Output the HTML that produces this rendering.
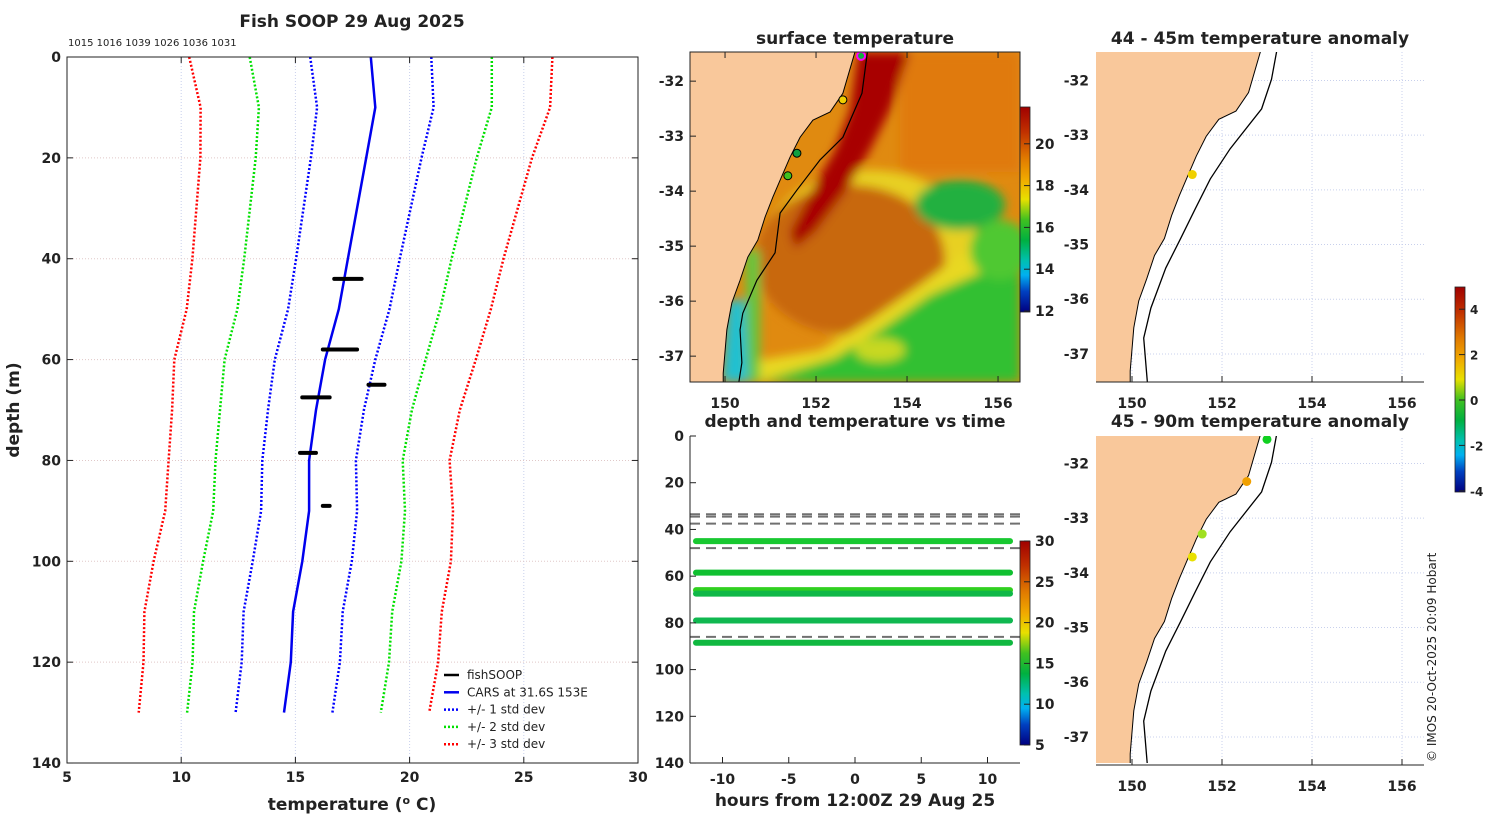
<!DOCTYPE html>
<html><head><meta charset="utf-8"><style>
html,body{margin:0;padding:0;background:#fff;width:1500px;height:820px;overflow:hidden;}
svg{display:block;font-family:"DejaVu Sans","Liberation Sans",sans-serif;}
.t{font-weight:bold;font-size:17px;fill:#222;}
.k{font-weight:bold;font-size:14px;fill:#222;}
</style></head><body>
<svg id="fig" width="1500" height="820" viewBox="0 0 1500 820" xmlns="http://www.w3.org/2000/svg">
<defs>
<linearGradient id="sstcb" x1="0" y1="0" x2="0" y2="1">
<stop offset="0" stop-color="#a00000"/><stop offset="0.12" stop-color="#c03000"/><stop offset="0.25" stop-color="#e07a00"/><stop offset="0.35" stop-color="#f0a800"/><stop offset="0.45" stop-color="#e8e000"/><stop offset="0.55" stop-color="#40c020"/><stop offset="0.65" stop-color="#00b040"/><stop offset="0.75" stop-color="#00c0b0"/><stop offset="0.82" stop-color="#00b0f0"/><stop offset="0.9" stop-color="#0040c0"/><stop offset="1" stop-color="#000080"/>
</linearGradient>
<filter id="blur" x="-20%" y="-20%" width="140%" height="140%"><feGaussianBlur stdDeviation="5"/></filter>
<clipPath id="mapclip"><rect x="690" y="52" width="330" height="330"/></clipPath>
<clipPath id="rclip1"><rect x="1096" y="52" width="328" height="330"/></clipPath>
<clipPath id="rclip2"><rect x="1096" y="436" width="328" height="327"/></clipPath>
</defs>
</svg>
<script>
// ---------- data ----------
const depths = [0,10,20,40,50,60,70,80,90,100,110,120,130];
const carsMean = [18.3,18.5,18.1,17.3,16.9,16.3,15.9,15.6,15.6,15.3,14.9,14.8,14.5];
const carsStd = [2.65,2.55,2.42,2.27,2.22,2.2,2.1,2.05,2.1,2.17,2.17,2.15,2.12];
const fishDepth = [44,58,65,67.5,78.5,89];
const fishTmin = [16.7,16.2,18.2,15.3,15.2,16.2];
const fishTmax = [17.9,17.7,18.9,16.5,15.9,16.5];
const xTicks = [5,10,15,20,25,30];
const yTicks = [0,20,40,60,80,100,120,140];
const lineDepths = [45,58.5,66,67.5,79,88.5];
const lineColors = ['#18c830','#10c030','#30d020','#10b848','#10b850','#10b840'];
const dashDepths = [33.5,34.5,37.5,48,86];
const hTicks = [-10,-5,0,5,10];
const coastLon = [152.88,152.59,152.31,151.93,151.65,151.43,151.21,151.05,150.88,150.72,150.50,150.33,150.15,150.04,149.96,149.96];
const coastLat = [-31.40,-32.22,-32.56,-32.71,-33.02,-33.38,-33.80,-34.11,-34.47,-34.89,-35.20,-35.62,-36.03,-36.52,-37.31,-37.6];
const shelfLon = [153.14,153.01,152.59,152.09,151.58,151.21,151.10,150.70,150.39,150.33,150.37,150.28];
const shelfLat = [-31.40,-32.22,-33.02,-33.43,-33.98,-34.40,-35.12,-35.62,-36.22,-36.52,-37.12,-37.6];
const rLineLon = [153.23,153.10,152.88,152.18,151.74,151.41,151.08,150.75,150.42,150.26,150.35];
const rLineLat = [-31.40,-31.98,-32.52,-33.25,-33.80,-34.34,-34.89,-35.43,-36.16,-36.71,-37.6];
const lonTicks = [150,152,154,156];
const latTicks = [-32,-33,-34,-35,-36,-37];
const sstLon = [152.99,152.59,151.58,151.38];
const sstLat = [-31.54,-32.34,-33.31,-33.72];
const sstCol = ['#10b040','#f0d000','#10a040','#40c020'];
const a1Lon = [151.34]; const a1Lat = [-33.72]; const a1Col = ['#f0d000'];
const a2Lon = [153.0,152.55,151.56,151.34]; const a2Lat = [-31.56,-32.33,-33.29,-33.71];
const a2Col = ['#10d020','#f0a000','#a0e020','#e8e000'];
const sstCbTicks = [20,18,16,14,12];
const hovCbTicks = [30,25,20,15,10,5];
const anCbTicks = [4,2,0,-2,-4];

const NS='http://www.w3.org/2000/svg';
const svg=document.getElementById('fig');
function mk(tag,attrs,parent){const e=document.createElementNS(NS,tag);for(const k in attrs)e.setAttribute(k,attrs[k]);(parent||svg).appendChild(e);return e;}
function txt(x,y,s,cls,anchor,parent){const e=mk('text',{x:x,y:y,'class':cls,'text-anchor':anchor||'middle'},parent);e.textContent=s;return e;}

// ---------- left profile ----------
const xT=t=>67+(t-5)*22.84, yD=d=>57+d*5.043;
const gL=mk('g',{});


xTicks.forEach(t=>{const l=mk('line',{x1:xT(t),x2:xT(t),y1:57,y2:763,stroke:'#c8d0ec','stroke-dasharray':'1 2'},gL);

});
yTicks.forEach(d=>{const l=mk('line',{x1:67,x2:638,y1:yD(d),y2:yD(d),stroke:'#e0c8c8','stroke-dasharray':'1 2'},gL);

});
function pathFrom(ts,ds){return ts.map((t,i)=>(i?'L':'M')+xT(t).toFixed(1)+','+yD(ds[i]).toFixed(1)).join('');}
const bandCols={1:'#0000ff',2:'#00e000',3:'#ff0000'};
[1,2,3].forEach(k=>{[-1,1].forEach(s=>{
 const p=mk('path',{d:pathFrom(carsMean.map((m,i)=>m+s*k*carsStd[i]),depths),fill:'none',stroke:bandCols[k],'stroke-width':2.5,'stroke-dasharray':'2 2'},gL);
 
 });});
const cars=mk('path',{d:pathFrom(carsMean,depths),fill:'none',stroke:'#0000ee','stroke-width':2.5},gL);


fishDepth.forEach((d,i)=>{const l=mk('line',{x1:xT(fishTmin[i]),x2:xT(fishTmax[i]),y1:yD(d),y2:yD(d),stroke:'#000','stroke-width':4,'stroke-linecap':'round'},gL);

});
const fr=mk('rect',{x:67,y:57,width:571,height:706,fill:'none',stroke:'#222','stroke-width':1},gL);


xTicks.forEach(t=>{mk('line',{x1:xT(t),x2:xT(t),y1:57,y2:63,stroke:'#222'},gL);mk('line',{x1:xT(t),x2:xT(t),y1:757,y2:763,stroke:'#222'},gL);
const e=txt(xT(t),782,String(t),'k','middle',gL);

});
yTicks.forEach(d=>{mk('line',{x1:67,x2:73,y1:yD(d),y2:yD(d),stroke:'#222'},gL);mk('line',{x1:632,x2:638,y1:yD(d),y2:yD(d),stroke:'#222'},gL);
const e=txt(61,yD(d)+5,String(d),'k','end',gL);

});
let e=txt(352,27,'Fish SOOP 29 Aug 2025','t','middle',gL);


e=txt(68,46,'1015 1016 1039 1026 1036 1031','k','start',gL);e.setAttribute('style','font-weight:normal;font-size:10px');


e=mk('text',{x:352,y:810,'class':'t','text-anchor':'middle'},gL);e.innerHTML='temperature (<tspan dy="-6" font-size="11">o</tspan><tspan dy="6"> C)</tspan>';


e=txt(0,0,'depth (m)','t','middle',gL);e.setAttribute('transform','translate(19,410) rotate(-90)');


const legItems=[['fishSOOP','#000',''],['CARS at 31.6S 153E','#0000ee',''],['+/- 1 std dev','#0000ff','2 2'],['+/- 2 std dev','#00e000','2 2'],['+/- 3 std dev','#ff0000','2 2']];
legItems.forEach((it,i)=>{const y=675+i*17.3;const g=mk('g',{},gL);


mk('line',{x1:444,x2:459,y1:y,y2:y,stroke:it[1],'stroke-width':2.5,'stroke-dasharray':it[2]},g);
const t=txt(467,y+4,it[0],'k','start',g);t.setAttribute('style','font-weight:normal;font-size:12px');});

// ---------- SST map ----------
const lx=l=>690+(l-149.23)*45.5, ly=a=>52+(-31.47-a)*55;
const gM=mk('g',{'clip-path':'url(#mapclip)'});


mk('rect',{x:690,y:52,width:330,height:330,fill:'#e08a10'},gM);
const gB=mk('g',{filter:'url(#blur)'},gM);
mk('rect',{x:900,y:52,width:120,height:120,fill:'#e07a08'},gB);
mk('ellipse',{cx:870,cy:255,rx:110,ry:85,fill:'#e8d020'},gB);
mk('ellipse',{cx:850,cy:260,rx:95,ry:75,fill:'#c86810'},gB);
mk('polygon',{points:'720,382 760,360 820,350 870,320 920,285 960,255 1020,240 1020,382',fill:'#e8d820'},gB);
mk('polygon',{points:'760,382 790,372 835,358 880,330 930,295 975,275 1020,265 1020,382',fill:'#30c030'},gB);
mk('ellipse',{cx:960,cy:205,rx:45,ry:25,fill:'#20b040'},gB);
mk('ellipse',{cx:1000,cy:250,rx:30,ry:30,fill:'#50c830'},gB);
mk('ellipse',{cx:880,cy:350,rx:25,ry:12,fill:'#c8d820'},gB);
mk('polygon',{points:'858,52 910,52 890,110 870,150 845,192 815,232 795,248 790,232 812,190 835,150 850,110',fill:'#a80000'},gB);
mk('polygon',{points:'728,300 745,300 748,382 722,382',fill:'#20c0d0'},gB);
mk('polygon',{points:'745,250 760,250 760,382 748,382',fill:'#60c840'},gB);
const landPts=coastLon.map((l,i)=>lx(l)+','+ly(coastLat[i])).join(' ')+' 600,420 600,40';
const land=mk('polygon',{points:landPts,fill:'#f9c89b',stroke:'#000','stroke-width':1},gM);


const sh=mk('polyline',{points:shelfLon.map((l,i)=>lx(l)+','+ly(shelfLat[i])).join(' '),fill:'none',stroke:'#000','stroke-width':1.2},gM);


sstLon.forEach((l,i)=>{const c=mk('circle',{cx:lx(l),cy:ly(sstLat[i]),r:4,fill:sstCol[i],stroke:i==0?'#ff00ff':'#000','stroke-width':i==0?2:1},gM);

});
const mf=mk('rect',{x:690,y:52,width:330,height:330,fill:'none',stroke:'#222'});


lonTicks.forEach(l=>{mk('line',{x1:lx(l),x2:lx(l),y1:382,y2:376,stroke:'#222'});mk('line',{x1:lx(l),x2:lx(l),y1:52,y2:58,stroke:'#222'});
const t=txt(lx(l),408,String(l),'k');

});
latTicks.forEach(a=>{mk('line',{x1:690,x2:696,y1:ly(a),y2:ly(a),stroke:'#222'});
const t=txt(684,ly(a)+5,String(a),'k','end');

});
e=txt(855,44,'surface temperature','t');


const cb1=mk('rect',{x:1020,y:107,width:10,height:205,fill:'url(#sstcb)',stroke:'#222','stroke-width':0.8});


sstCbTicks.forEach(v=>{const y=311-(v-12)*20.9;mk('line',{x1:1024,x2:1030,y1:y,y2:y,stroke:'#222'});
const t=txt(1035,y+5,String(v),'k','start');

});

// ---------- depth/temperature vs time ----------
const hx=h=>855+h*13.25, dy=d=>436+d*2.336;
const gH=mk('g',{});


dashDepths.forEach(d=>{const l=mk('line',{x1:690,x2:1020,y1:dy(d),y2:dy(d),stroke:'#707070','stroke-width':2,'stroke-dasharray':'10 6'},gH);

});
lineDepths.forEach((d,i)=>{const l=mk('line',{x1:hx(-12),x2:hx(11.7),y1:dy(d),y2:dy(d),stroke:lineColors[i],'stroke-width':6,'stroke-linecap':'round'},gH);

});
mk('line',{x1:690,x2:690,y1:436,y2:763,stroke:'#222'},gH);
mk('line',{x1:690,x2:1020,y1:763,y2:763,stroke:'#222'},gH);
hTicks.forEach(h=>{mk('line',{x1:hx(h),x2:hx(h),y1:763,y2:757,stroke:'#222'},gH);
const t=txt(hx(h),784,String(h),'k','middle',gH);

});
yTicks.forEach(d=>{mk('line',{x1:690,x2:696,y1:dy(d),y2:dy(d),stroke:'#222'},gH);
const t=txt(684,dy(d)+5,String(d),'k','end',gH);

});
e=txt(855,427,'depth and temperature vs time','t');


e=txt(855,806,'hours from 12:00Z 29 Aug 25','t');


const cb2=mk('rect',{x:1020,y:541,width:10,height:204,fill:'url(#sstcb)',stroke:'#222','stroke-width':0.8});


hovCbTicks.forEach(v=>{const y=745-(v-5)*8.16;mk('line',{x1:1024,x2:1030,y1:y,y2:y,stroke:'#222'});
const t=txt(1035,y+5,String(v),'k','start');

});

// ---------- anomaly maps ----------
function anomMap(top,clip,title,pLon,pLat,pCol,name){
 const rx=l=>1096+(l-149.2)*45, ry=a=>top+(-31.48-a)*54.7;
 const g=mk('g',{});
 
 
 const gc=mk('g',{'clip-path':'url(#'+clip+')'},g);
 lonTicks.forEach(l=>mk('line',{x1:rx(l),x2:rx(l),y1:top,y2:top+330,stroke:'#c8d0ec','stroke-dasharray':'1 2'},gc));
 latTicks.forEach(a=>mk('line',{x1:1096,x2:1424,y1:ry(a),y2:ry(a),stroke:'#c8d0ec','stroke-dasharray':'1 2'},gc));
 const ld=mk('polygon',{points:coastLon.map((l,i)=>rx(l)+','+ry(coastLat[i])).join(' ')+' 1000,900 1000,0',fill:'#f9c89b',stroke:'#000','stroke-width':1},gc);
 
 
 const ib=mk('polyline',{points:rLineLon.map((l,i)=>rx(l)+','+ry(rLineLat[i])).join(' '),fill:'none',stroke:'#000','stroke-width':1.3},gc);
 
 
 pLon.forEach((l,i)=>{const c=mk('circle',{cx:rx(l),cy:ry(pLat[i]),r:4.5,fill:pCol[i]},gc);
 
 });
 mk('line',{x1:1096,x2:1424,y1:top+330,y2:top+330,stroke:'#222'},g);
 lonTicks.forEach(l=>{mk('line',{x1:rx(l),x2:rx(l),y1:top+330,y2:top+324,stroke:'#222'},g);
 const t=txt(rx(l),top+356,String(l),'k','middle',g);
 
 });
 latTicks.forEach(a=>{const t=txt(1089,ry(a)+5,String(a),'k','end',g);
 
 });
 const tt=txt(1260,top-8,title,'t','middle',g);
 
 
}
anomMap(52,'rclip1','44 - 45m temperature anomaly',a1Lon,a1Lat,a1Col,'anomaly-map-44-45m');
anomMap(435,'rclip2','45 - 90m temperature anomaly',a2Lon,a2Lat,a2Col,'anomaly-map-45-90m');
const cb3=mk('rect',{x:1455,y:287,width:10,height:205,fill:'url(#sstcb)',stroke:'#222','stroke-width':0.8});


anCbTicks.forEach(v=>{const y=400-v*22.7;mk('line',{x1:1459,x2:1465,y1:y,y2:y,stroke:'#222'});
const t=txt(1470,y+5,String(v),'k','start');t.setAttribute('style','font-size:12px');

});
e=txt(0,0,'© IMOS 20-Oct-2025 20:09 Hobart','k','start');
e.setAttribute('style','font-weight:normal;font-size:12px');
e.setAttribute('transform','translate(1436,762) rotate(-90)');


</script>
</body></html>
